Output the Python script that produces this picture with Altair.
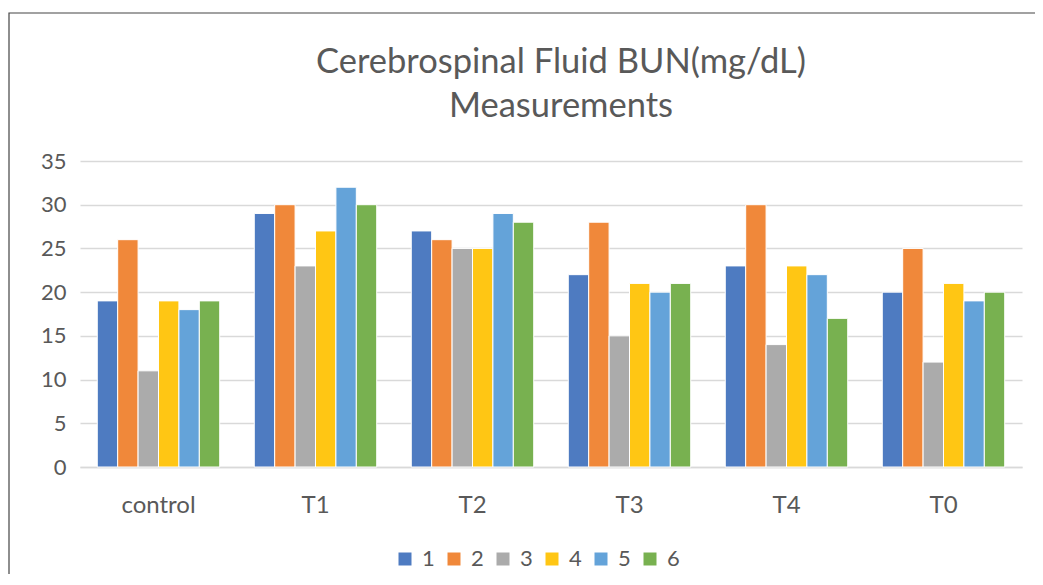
import altair as alt
import pandas as pd

groups = ["control", "T1", "T2", "T3", "T4", "T0"]
series = ["1", "2", "3", "4", "5", "6"]
values = {
    "1": [19, 29, 27, 22, 23, 20],
    "2": [26, 30, 26, 28, 30, 25],
    "3": [11, 23, 25, 15, 14, 12],
    "4": [19, 27, 25, 21, 23, 21],
    "5": [18, 32, 29, 20, 22, 19],
    "6": [19, 30, 28, 21, 17, 20],
}
colors = ["#4E7BC1", "#F0883A", "#ABABAB", "#FFC614", "#64A3D9", "#78B150"]
y_ticks = [0, 5, 10, 15, 20, 25, 30, 35]
title_lines = ["Cerebrospinal Fluid BUN(mg/dL)", "Measurements"]

rows = []
for s in series:
    for g, v in zip(groups, values[s]):
        rows.append({"group": g, "series": s, "value": v})
df = pd.DataFrame(rows)

FONT = "Lato"
GREY = "#595959"

bars = alt.Chart(df).mark_bar(stroke="white", strokeWidth=1).encode(
    x=alt.X("group:N", sort=groups, title=None,
            scale=alt.Scale(paddingInner=0.22, paddingOuter=0.11),
            axis=alt.Axis(labelAngle=0, labelFontSize=24, labelColor=GREY,
                          labelFont=FONT, labelPadding=26, ticks=False,
                          domainColor="#D9D9D9", domainWidth=1.5)),
    xOffset=alt.XOffset("series:N", sort=series, scale=alt.Scale(paddingInner=0.0)),
    y=alt.Y("value:Q", title=None,
            scale=alt.Scale(domain=[0, 35], nice=False),
            axis=alt.Axis(values=y_ticks, labelFontSize=22, labelColor=GREY,
                          labelFont=FONT, labelPadding=14, ticks=False,
                          domain=False, gridColor="#D9D9D9", gridWidth=1.5)),
    color=alt.Color("series:N", sort=series,
                    scale=alt.Scale(domain=series, range=colors),
                    legend=alt.Legend(title=None, orient="none", direction="horizontal",
                                      legendX=314, legendY=387,
                                      symbolType="square", symbolSize=169,
                                      symbolStrokeWidth=0,
                                      labelFontSize=22, labelColor=GREY,
                                      labelFont=FONT, columnPadding=8,
                                      labelOffset=6)),
)

title = alt.Chart(pd.DataFrame({"a": [0]})).mark_text(
    font=FONT, fontSize=34.5, color=GREY, align="center", baseline="middle",
    lineHeight=44,
).encode(
    x=alt.value(481), y=alt.value(-98), text=alt.value(title_lines)
)

frame = alt.Chart(pd.DataFrame({"a": [0]})).mark_rect(
    fill=None, stroke="#444444", strokeWidth=1.2
).encode(
    x=alt.value(-71), x2=alt.value(1000), y=alt.value(-148), y2=alt.value(460)
)

chart = alt.layer(bars, title, frame).properties(
    width=942, height=306,
    autosize=alt.AutoSizeParams(type="none"),
    padding={"left": 72, "top": 153, "right": 13, "bottom": 107},
).configure_view(stroke=None)

chart.save("out.html", embed_options={"renderer": "svg", "actions": False})
